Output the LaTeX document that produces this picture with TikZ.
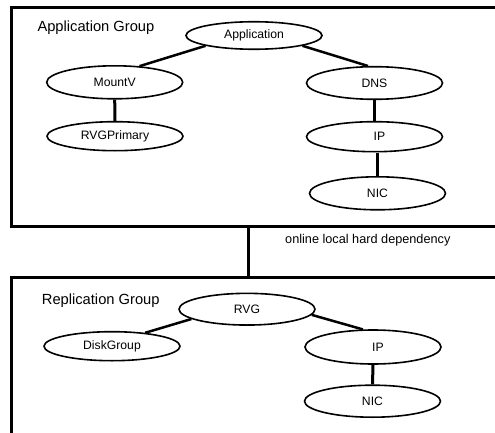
\documentclass[tikz,border=0pt]{standalone}
\usepackage{fontspec}
\setmainfont{Liberation Sans}
\usetikzlibrary{shapes.geometric}
\tikzset{
  res/.style={shape=ellipse, draw, line width=1.6pt, inner sep=0pt, minimum width=136pt, font=\fontsize{12.2}{14}\selectfont},
  grp/.style={draw, line width=3pt, inner sep=0pt, anchor=north west},
  grplabel/.style={anchor=base west, inner sep=0pt, font=\fontsize{14.7}{17}\selectfont},
  deplabel/.style={anchor=base west, inner sep=0pt, font=\fontsize{12.7}{15}\selectfont},
  link/.style={line width=2.5pt},
  vlink/.style={line width=3pt}
}
\begin{document}
\begin{tikzpicture}[x=1pt,y=-1pt]
\useasboundingbox (0,0) rectangle (495,433);
\clip (0,0) rectangle (495,433);
% groups
\node[grp, minimum width=510pt, minimum height=219pt] (appgrp) at (9.5,6) {};
\node[grp, minimum width=510pt, minimum height=180pt] (repgrp) at (9.5,276) {};
\node[grplabel] (applabel) at (37.3,31.7) {Application Group};
\node[grplabel] (replabel) at (41.7,304.6) {Replication Group};
\node[deplabel] (dep) at (285,243.5) {online local hard dependency};
% group link
\path (appgrp.south west) ++(239,0) coordinate (d1);
\draw[vlink] (d1) -- (d1 |- repgrp.north);
% application group resources
\node[res, minimum height=27.5pt] (app) at (254,35.5) {Application};
\node[res, minimum height=33pt] (mv) at (114.7,82.3) {MountV};
\node[res, minimum height=29pt] (rvgp) at (115,136.2) {RVGPrimary};
\node[res, minimum height=32.6pt] (dns) at (374.5,83) {DNS};
\node[res, minimum height=30pt] (ip1) at (374.5,136.7) {\hspace*{10pt}IP};
\node[res, minimum height=33pt] (nic1) at (377.5,193.3) {NIC};
\draw[link] (app.192) -- (mv.33);
\draw[link] (app.348) -- (dns.111);
\draw[vlink] (mv.south) -- (rvgp.north);
\draw[vlink] (dns.south) -- (ip1.north);
\draw[vlink] (nic1.north |- ip1.south) -- (nic1.north);
% replication group resources
\node[res, minimum height=31.7pt] (rvg) at (247,309.2) {RVG};
\node[res, minimum height=29pt] (dg) at (112,346.2) {DiskGroup};
\node[res, minimum height=34pt] (ip2) at (373,347) {\hspace*{10pt}IP};
\node[res, minimum height=32pt] (nic2) at (372.5,401.2) {NIC};
\draw[link] (rvg.190) -- (dg.22);
\draw[link] (rvg.355) -- (ip2.120);
\draw[vlink] (ip2.south) -- (nic2.north);
\end{tikzpicture}
\end{document}
